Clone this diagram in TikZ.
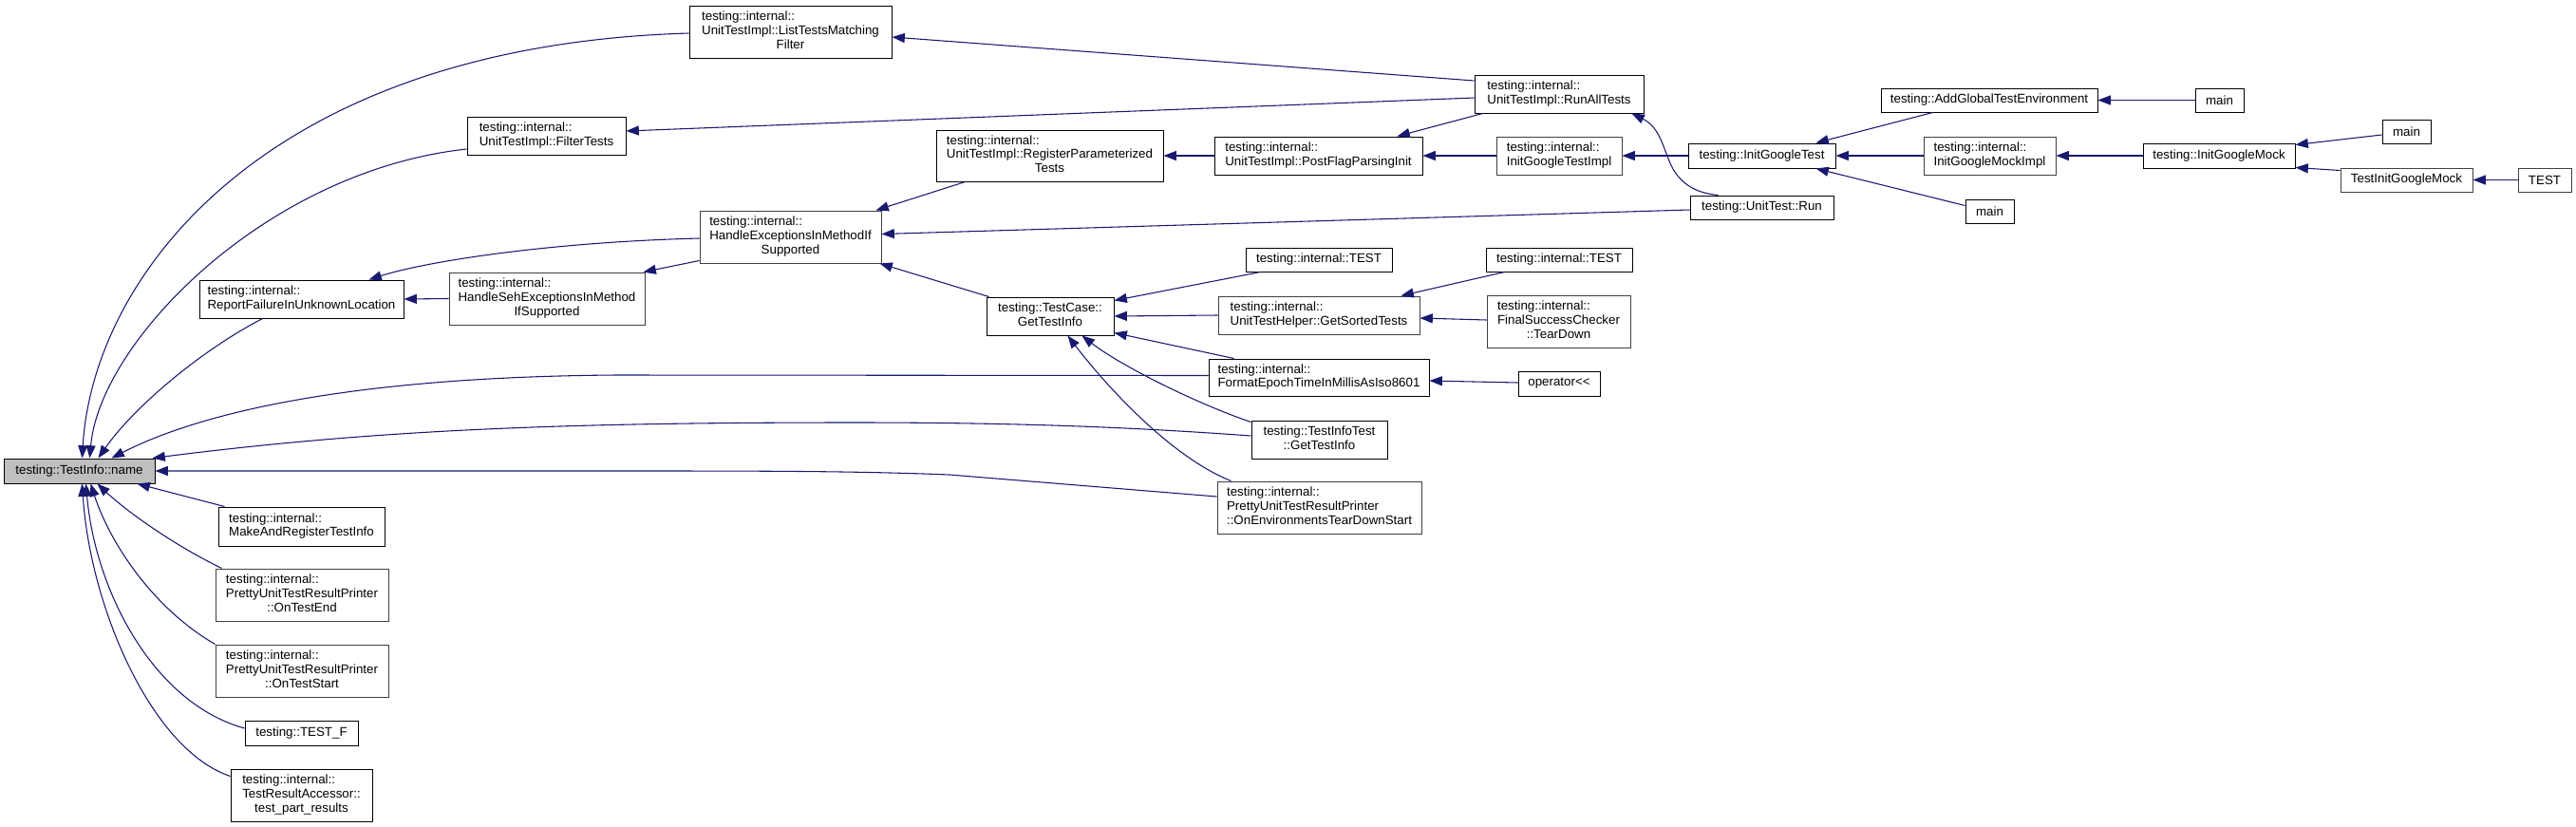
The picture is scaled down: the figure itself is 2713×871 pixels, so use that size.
\documentclass[tikz,border=0pt]{standalone}
\usepackage{fontspec}
\setmainfont{Liberation Sans}
\usetikzlibrary{arrows.meta,calc}
\definecolor{edgec}{HTML}{191970}
\definecolor{gborder}{HTML}{404040}
\definecolor{mainfill}{HTML}{BFBFBF}
\newcommand\Lb[1]{\begin{tabular}{@{}l@{}}#1\end{tabular}}
\newcommand\Cn[1]{\multicolumn{1}{@{}c@{}}{#1}}
\newcommand\Nd[7][box]{\node[#1,minimum width={(#5-#3)*0.75pt},minimum height={(#6-#4)*0.75pt}] (#2) at ({(#3+#5)/2},{(#4+#6)/2}) {#7};}
\tikzset{
 box/.style={draw=black, line width=0.75pt, inner sep=0pt, fill=white, font=\fontsize{10}{11.1}\selectfont},
 gbox/.style={box, draw=gborder},
 mainbox/.style={box, fill=mainfill},
 conn/.style={draw=edgec, line width=0.8pt, arrows={Triangle[length=10pt,width=7.5pt]-}},
}
\begin{document}
\begin{tikzpicture}[x=0.75pt,y=-0.75pt]
\useasboundingbox (0,0) rectangle (2713,871);
% nodes
\Nd[mainbox]{nm}{4}{483}{163}{509}{testing::TestInfo::name}
\Nd{lt}{726}{6}{939}{61}{\Lb{testing::internal::\\UnitTestImpl::ListTestsMatching\\\Cn{Filter}}}
\Nd{ft}{492}{123}{659}{163}{\Lb{testing::internal::\\UnitTestImpl::FilterTests}}
\Nd{rf}{210}{295}{425}{335}{\Lb{testing::internal::\\ReportFailureInUnknownLocation}}
\Nd[gbox]{hs}{473}{287}{679}{342}{\Lb{testing::internal::\\HandleSehExceptionsInMethod\\\Cn{IfSupported}}}
\Nd[gbox]{he}{737}{222}{928}{277}{\Lb{testing::internal::\\HandleExceptionsInMethodIf\\\Cn{Supported}}}
\Nd{rp}{986}{137}{1225}{191}{\Lb{testing::internal::\\UnitTestImpl::RegisterParameterized\\\Cn{Tests}}}
\Nd{pf}{1279}{144}{1498}{184}{\Lb{testing::internal::\\UnitTestImpl::PostFlagParsingInit}}
\Nd{gti}{1039}{313}{1173}{353}{\Lb{\Cn{testing::TestCase::}\\\Cn{GetTestInfo}}}
\Nd{t1}{1312}{261}{1466}{286}{testing::internal::TEST}
\Nd[gbox]{gst}{1283}{312}{1495}{352}{\Lb{testing::internal::\\UnitTestHelper::GetSortedTests}}
\Nd{fe}{1273}{378}{1505}{417}{\Lb{testing::internal::\\FormatEpochTimeInMillisAsIso8601}}
\Nd{tit}{1318}{443}{1461}{483}{\Lb{\Cn{testing::TestInfoTest}\\\Cn{::GetTestInfo}}}
\Nd[gbox]{oe}{1282}{507}{1497}{562}{\Lb{testing::internal::\\PrettyUnitTestResultPrinter\\::OnEnvironmentsTearDownStart}}
\Nd{rat}{1553}{79}{1731}{119}{\Lb{testing::internal::\\UnitTestImpl::RunAllTests}}
\Nd[gbox]{igi}{1576}{144}{1708}{184}{\Lb{testing::internal::\\InitGoogleTestImpl}}
\Nd{igt}{1778}{151}{1933}{177}{testing::InitGoogleTest}
\Nd{run}{1780}{206}{1931}{231}{testing::UnitTest::Run}
\Nd{t2}{1565}{261}{1719}{286}{testing::internal::TEST}
\Nd[gbox]{fsc}{1566}{311}{1717}{366}{\Lb{testing::internal::\\FinalSuccessChecker\\\Cn{::TearDown}}}
\Nd{op}{1599}{391}{1685}{417}{operator<\kern0pt<}
\Nd{ag}{1981}{93}{2209}{118}{testing::AddGlobalTestEnvironment}
\Nd{m1}{2312}{93}{2363}{118}{main}
\Nd[gbox]{gmi}{2026}{144}{2165}{184}{\Lb{testing::internal::\\InitGoogleMockImpl}}
\Nd{gm}{2257}{151}{2417}{177}{testing::InitGoogleMock}
\Nd{m3}{2070}{210}{2121}{235}{main}
\Nd{m2}{2509}{126}{2560}{151}{main}
\Nd[gbox]{tig}{2465}{177}{2604}{202}{TestInitGoogleMock}
\Nd[gbox]{tst}{2652}{177}{2708}{202}{TEST}
\Nd{mk}{230}{534}{405}{575}{\Lb{testing::internal::\\MakeAndRegisterTestInfo}}
\Nd[gbox]{ote}{227}{599}{409}{654}{\Lb{testing::internal::\\PrettyUnitTestResultPrinter\\\Cn{::OnTestEnd}}}
\Nd[gbox]{ots}{227}{679}{409}{734}{\Lb{testing::internal::\\PrettyUnitTestResultPrinter\\\Cn{::OnTestStart}}}
\Nd{tf}{258}{759}{377}{785}{testing::TEST\_F}
\Nd{tpr}{243}{810}{392}{865}{\Lb{testing::internal::\\TestResultAccessor::\\\Cn{test\_part\_results}}}
% edges into testing::TestInfo::name
\draw[conn] ($(nm.north west)+(83,0)$) .. controls (98,290) and (280,48) .. ($(lt.west)+(0,1.5)$);
\draw[conn] ($(nm.north west)+(91,0)$) .. controls (105,360) and (280,180) .. ($(ft.west)+(0,14)$);
\draw[conn] ($(nm.north west)+(100,0)$) .. controls (140,430) and (210,370) .. ($(rf.south west)+(67,0)$);
\draw[conn] ($(nm.north west)+(114,0)$) .. controls (200,440) and (350,397) .. (650,395) -- ($(fe.west)+(0,-2)$);
\draw[conn] ($(nm.north east)+(-3,0)$) .. controls (400,452) and (600,445) .. (900,445) .. controls (1100,445) and (1220,452) .. ($(tit.west)+(0,-4)$);
\draw[conn] (nm.east) -- (650,496) .. controls (800,496) and (900,496) .. (1000,500) -- ($(oe.west)+(0,-11.5)$);
\draw[conn] ($(nm.south west)+(141,0)$) -- ($(mk.north west)+(7,0)$);
\draw[conn] ($(nm.south west)+(99,0)$) .. controls (135,540) and (185,575) .. ($(ote.north west)+(7,0)$);
\draw[conn] ($(nm.south west)+(92,0)$) .. controls (115,570) and (160,640) .. (ots.north west);
\draw[conn] ($(nm.south west)+(87,0)$) .. controls (100,620) and (160,740) .. ($(tf.west)+(0,-5)$);
\draw[conn] ($(nm.south west)+(83,0)$) .. controls (95,640) and (160,790) .. ($(tpr.north west)+(0,8)$);
% other edges
\draw[conn] ($(lt.east)+(0,5.5)$) -- ($(rat.west)+(0,-14)$);
\draw[conn] ($(ft.east)+(0,-5)$) -- ($(rat.west)+(0,4)$);
\draw[conn] ($(pf.north east)+(-27,0)$) -- ($(rat.south west)+(9,0)$);
\draw[conn] (rp.east) -- (pf.west);
\draw[conn] (pf.east) -- (igi.west);
\draw[conn] (igi.east) -- (igt.west);
\draw[conn] ($(rat.south east)+(-13,0)$) .. controls (1750,135) and (1752,160) .. (1762,178) .. controls (1775,200) and (1795,204) .. ($(run.north west)+(30,0)$);
\draw[conn] ($(igt.north east)+(-21,0)$) -- ($(ag.south west)+(55,0)$);
\draw[conn] (igt.east) -- (gmi.west);
\draw[conn] ($(igt.south east)+(-21,0)$) -- ($(m3.north west)+(0,7)$);
\draw[conn] (ag.east) -- (m1.west);
\draw[conn] (gmi.east) -- (gm.west);
\draw[conn] ($(gm.north east)+(0,2)$) -- ($(m2.west)+(0,3.5)$);
\draw[conn] ($(gm.south east)+(0,-1)$) -- ($(tig.north west)+(0,3)$);
\draw[conn] (tig.east) -- (tst.west);
\draw[conn] ($(he.north east)+(-6,0)$) -- ($(rp.south west)+(31,0)$);
\draw[conn] ($(he.east)+(0,-3)$) -- ($(run.west)+(0,2.5)$);
\draw[conn] ($(rf.north east)+(-37,0)$) .. controls (450,275) and (580,255) .. ($(he.west)+(0,1.5)$);
\draw[conn] (rf.east) -- (hs.west);
\draw[conn] ($(hs.north east)+(-2,0)$) -- ($(he.south west)+(0,-3)$);
\draw[conn] ($(he.south east)+(-2,0)$) -- ($(gti.north west)+(3,0)$);
\draw[conn] ($(gti.north east)+(0,4)$) -- ($(t1.south west)+(16,0)$);
\draw[conn] (gti.east) -- (gst.west);
\draw[conn] ($(gti.south east)+(0,-3)$) -- ($(fe.north west)+(27,0)$);
\draw[conn] ($(gti.south west)+(101,0)$) .. controls (1180,385) and (1260,425) .. ($(tit.north west)+(0,2)$);
\draw[conn] ($(gti.south west)+(86,0)$) .. controls (1160,400) and (1230,480) .. ($(oe.north west)+(15,0)$);
\draw[conn] ($(gst.north east)+(-20,0)$) -- ($(t2.south west)+(20,0)$);
\draw[conn] ($(gst.east)+(0,3)$) -- ($(fsc.west)+(0,-1.5)$);
\draw[conn] ($(fe.east)+(0,3.5)$) -- ($(op.west)+(0,-1)$);
\end{tikzpicture}
\end{document}
